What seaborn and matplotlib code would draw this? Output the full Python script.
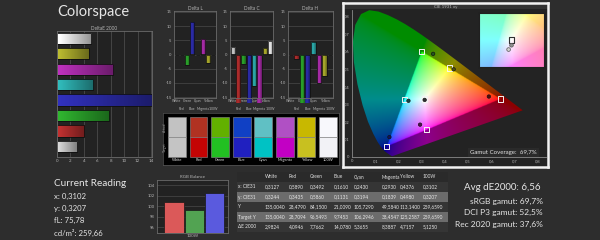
import numpy as np
import pandas as pd
import matplotlib
matplotlib.use("Agg")
import matplotlib.pyplot as plt
from matplotlib.path import Path
from matplotlib.patches import Polygon, Rectangle
import seaborn as sns

# ------------------------------------------------------------------ data
categories = ["White", "Red", "Green", "Blue", "Cyan", "Magenta", "Yellow", "100W"]
cat_colors = ["#d0d0d0", "#d01818", "#18c018", "#1818c8", "#18c8c8", "#c818c8", "#c8c818", "#f4f4f4"]

cie_x = [0.3127, 0.5890, 0.3492, 0.1610, 0.2430, 0.2930, 0.4376, 0.3102]
cie_y = [0.3244, 0.3435, 0.5860, 0.1131, 0.3194, 0.1839, 0.4980, 0.3207]
lum_Y = [135.0040, 28.4790, 84.1500, 21.0090, 105.7290, 49.5840, 113.1400, 259.6590]
target_Y = [135.0040, 28.7094, 96.5493, 9.7453, 106.2946, 38.4547, 125.2587, 259.6590]
delta_e = [2.9824, 4.0946, 7.7662, 14.0780, 5.3655, 8.3887, 4.7157, 5.1250]

delta_l = [0.0, -0.2, -3.7, 11.3, -0.3, 5.3, -2.9, 0.0]
delta_c = [2.6, -17.0, -3.3, -17.0, -11.1, -17.0, 2.3, 4.7]
delta_h = [0.0, -1.5, -17.0, -17.0, 4.5, -10.0, -7.5, 0.0]

target_names = ["White", "Red", "Green", "Blue", "Cyan", "Magenta", "Yellow"]
target_x = [0.3127, 0.6400, 0.3000, 0.1500, 0.2247, 0.3209, 0.4193]
target_y = [0.3290, 0.3300, 0.6000, 0.0600, 0.3287, 0.1542, 0.5053]
srgb_tri_x = [0.64, 0.30, 0.15]
srgb_tri_y = [0.33, 0.60, 0.06]

actual_colors = ["#c2c2c2", "#b03222", "#62b000", "#1040c4", "#60c0c4", "#b050c4", "#c8b800", "#f8f8fc"]
target_colors = ["#c4c4c4", "#c40404", "#22c022", "#2020c0", "#00c2c4", "#c200c4", "#c8c020", "#f2f2f6"]

rgb_channels = ["R", "G", "B"]
rgb_balance = [100.85, 99.35, 102.45]
rgb_colors = ["#f04444", "#44b044", "#4444f4"]

reading_labels = ["x: 0,3102", "y: 0,3207", "fL: 75,78", "cd/m²: 259,66"]
summary_title = "Avg dE2000: 6,56"
summary_lines = ["sRGB gamut: 69,7%", "DCI P3 gamut: 52,5%", "Rec 2020 gamut: 37,6%"]
gamut_coverage = "Gamut Coverage:  69,7%"

table_rows = ["x: CIE31", "y: CIE31", "Y", "Target Y", "ΔE 2000"]

# CIE 1931 2deg spectral locus (380..700 nm)
locus_x = [0.1741, 0.1740, 0.1738, 0.1736, 0.1733, 0.1730, 0.1726, 0.1721, 0.1714, 0.1703,
           0.1689, 0.1669, 0.1644, 0.1611, 0.1566, 0.1510, 0.1440, 0.1355, 0.1241, 0.1096,
           0.0913, 0.0687, 0.0454, 0.0235, 0.0082, 0.0039, 0.0139, 0.0389, 0.0743, 0.1142,
           0.1547, 0.1929, 0.2296, 0.2658, 0.3016, 0.3373, 0.3731, 0.4087, 0.4441, 0.4788,
           0.5125, 0.5448, 0.5752, 0.6029, 0.6270, 0.6482, 0.6658, 0.6801, 0.6915, 0.7006,
           0.7079, 0.7140, 0.7190, 0.7230, 0.7260, 0.7283, 0.7300, 0.7334, 0.7347]
locus_y = [0.0050, 0.0050, 0.0049, 0.0049, 0.0048, 0.0048, 0.0048, 0.0048, 0.0051, 0.0058,
           0.0069, 0.0086, 0.0109, 0.0138, 0.0177, 0.0227, 0.0297, 0.0399, 0.0578, 0.0868,
           0.1327, 0.2007, 0.2950, 0.4127, 0.5384, 0.6548, 0.7502, 0.8120, 0.8338, 0.8262,
           0.8059, 0.7816, 0.7543, 0.7243, 0.6923, 0.6589, 0.6245, 0.5896, 0.5547, 0.5202,
           0.4866, 0.4544, 0.4242, 0.3965, 0.3725, 0.3514, 0.3340, 0.3197, 0.3083, 0.2993,
           0.2920, 0.2859, 0.2809, 0.2770, 0.2740, 0.2717, 0.2700, 0.2666, 0.2653]

# ------------------------------------------------------------------ style
sns.set_theme(style="dark")
BG = "#2d2d2d"
AXBG = "#222222"
TXT = "#e6e6e6"
TICK = "#b4b4b4"
GRID = "#4a4a4a"
plt.rcParams["font.family"] = ["Lato", "DejaVu Sans"]
plt.rcParams["axes.unicode_minus"] = False

W, H = 600, 240
fig = plt.figure(figsize=(6, 2.4), dpi=100, facecolor=BG)


def px_axes(x, y, w, h, **kw):
    return fig.add_axes([x / W, 1 - (y + h) / H, w / W, h / H], **kw)


def fig_text(x, y, s, **kw):
    return fig.text(x / W, 1 - y / H, s, **kw)


def style_axes(ax, fs=3.2):
    ax.set_facecolor(AXBG)
    for sp in ax.spines.values():
        sp.set_color("#6a6a6a")
        sp.set_linewidth(0.6)
    ax.tick_params(colors=TICK, labelsize=fs, length=1.0, width=0.4, pad=0.8)
    ax.set_xlabel("")
    ax.set_ylabel("")


def shade_bars(ax, horizontal=True, lo=1.0, hi=0.55):
    for p in list(ax.patches):
        bb = p.get_bbox()
        if bb.width == 0 or bb.height == 0:
            continue
        c = np.array(matplotlib.colors.to_rgb(p.get_facecolor()))
        t = np.linspace(0, 1, 64)
        if horizontal:
            f = lo + (hi - lo) * t
        else:
            f = 1.0 - 0.35 * np.abs(t - 0.4) * 2
        img = np.clip(c[None, None, :] * f[None, :, None], 0, 1)
        im = ax.imshow(img, extent=[bb.x0, bb.x1, bb.y0, bb.y1], aspect="auto",
                       interpolation="bilinear", zorder=p.get_zorder() + 0.1,
                       origin="lower")
        im.set_clip_path(p)
        p.set_facecolor("none")
        p.set_zorder(p.get_zorder() + 0.2)


# ------------------------------------------------------------------ title
fig_text(57, 12, "Colorspace", fontsize=10.5, color=TXT, va="center", ha="left")

# ------------------------------------------------------------------ DeltaE 2000 bars
ax_de = px_axes(57, 31, 95, 126)
order_de = categories[::-1]
df_de = pd.DataFrame({"cat": categories, "de": delta_e})
sns.barplot(data=df_de, x="de", y="cat", hue="cat", order=order_de, hue_order=categories,
            palette=cat_colors, orient="h", width=0.74, edgecolor="#101010",
            linewidth=0.6, legend=False, ax=ax_de)
style_axes(ax_de)
ax_de.set_xlim(0, 14.15)
ax_de.set_ylim(7.67, -0.47)
ax_de.set_xticks(range(0, 15, 2))
ax_de.set_yticks([])
ax_de.grid(axis="x", color=GRID, linewidth=0.6)
ax_de.grid(axis="y", visible=False)
ax_de.set_axisbelow(True)
ax_de.set_title("DeltaE 2000", fontsize=3.4, color=TICK, pad=1.0)
shade_bars(ax_de, horizontal=True, lo=1.08, hi=0.6)


# ------------------------------------------------------------------ Delta L / C / H
def delta_chart(x0, width, vals, title):
    ax = px_axes(x0, 11, width, 87)
    df = pd.DataFrame({"cat": categories, "v": vals})
    sns.barplot(data=df, x="cat", y="v", hue="cat", order=categories, hue_order=categories,
                palette=cat_colors, width=0.78, edgecolor="#101010", linewidth=0.5,
                legend=False, ax=ax)
    style_axes(ax, fs=3.0)
    ax.set_ylim(-15.3, 15.3)
    ax.set_xlim(-0.5, 7.5)
    ax.set_yticks([15, 10, 5, 0, -5, -10, -15])
    ax.grid(axis="y", color=GRID, linewidth=0.5)
    ax.grid(axis="x", visible=False)
    ax.set_axisbelow(True)
    ax.set_xticks(range(8))
    ax.set_xticklabels(categories)
    ax.tick_params(axis="x", length=0, pad=0.6, labelsize=2.4)
    for i, t in enumerate(ax.xaxis.get_major_ticks()):
        if i % 2 == 1:
            t.set_pad(6.6)
    ax.set_title(title, fontsize=3.4, color=TICK, pad=1.0)
    shade_bars(ax, horizontal=False)
    return ax


delta_chart(174, 42, delta_l, "Delta L")
delta_chart(230, 43, delta_c, "Delta C")
delta_chart(288, 45, delta_h, "Delta H")

# ------------------------------------------------------------------ swatches
ax_sw = px_axes(163, 113, 176, 52)
ax_sw.set_facecolor("#000000")
xs = np.arange(len(categories))
ax_sw.bar(xs, 1, bottom=1, width=0.83, color=actual_colors, edgecolor="#8a8a8a", linewidth=0.4)
ax_sw.bar(xs, 1, bottom=0, width=0.83, color=target_colors, edgecolor="#8a8a8a", linewidth=0.4)
ax_sw.set_xlim(-0.65, 7.52)
ax_sw.set_ylim(-0.4, 2.2)
ax_sw.set_xticks([])
ax_sw.set_yticks([])
for sp in ax_sw.spines.values():
    sp.set_color("#555555")
    sp.set_linewidth(0.5)
for i, c in enumerate(categories):
    ax_sw.text(i, -0.17, c, fontsize=2.8, color="#e0e0e0", ha="center", va="center")
ax_sw.text(-0.56, 1.5, "Actual", fontsize=2.4, color="#a0a0a0", rotation=90, ha="center", va="center")
ax_sw.text(-0.56, 0.5, "Target", fontsize=2.4, color="#a0a0a0", rotation=90, ha="center", va="center")

# ------------------------------------------------------------------ CIE diagram
M = np.array([[3.2406, -1.5372, -0.4986],
              [-0.9689, 1.8758, 0.0415],
              [0.0557, -0.2040, 1.0570]])


def xy_to_rgb(xg, yg):
    yg = np.maximum(yg, 1e-4)
    X = xg / yg
    Y = np.ones_like(xg)
    Z = (1 - xg - yg) / yg
    rgb = np.stack([X, Y, Z], -1) @ M.T
    rgb = np.clip(rgb, 0, None)
    rgb = rgb / np.maximum(rgb.max(-1, keepdims=True), 1e-6)
    rgb = np.where(rgb <= 0.0031308, 12.92 * rgb, 1.055 * np.power(rgb, 1 / 2.4) - 0.055)
    return np.clip(rgb, 0, 1)


ax_frame = px_axes(343, 3, 205, 164)
ax_frame.set_facecolor("#232323")
ax_frame.set_xticks([])
ax_frame.set_yticks([])
for sp in ax_frame.spines.values():
    sp.set_color("#f2f2f2")
    sp.set_linewidth(1.8)
ax_frame.add_patch(Rectangle((0, 0.965), 1, 0.035, transform=ax_frame.transAxes,
                             color="#333333", lw=0))
ax_frame.text(0.5, 0.978, "CIE 1931 xy", transform=ax_frame.transAxes, fontsize=3.2,
              color=TICK, ha="center", va="center")

LIM = 0.835
ax_cie = px_axes(352, 10, 194, 147)
ax_cie.set_facecolor("none")
N = 420
g = np.linspace(0, LIM, N)
gx, gy = np.meshgrid(g, g)
rgb = xy_to_rgb(gx, gy)
tri = Path(np.column_stack([srgb_tri_x, srgb_tri_y]))
inside_tri = tri.contains_points(np.column_stack([gx.ravel(), gy.ravel()])).reshape(gx.shape)
rgb = np.where(inside_tri[..., None], rgb, rgb * 0.55)
im = ax_cie.imshow(rgb, extent=[0, LIM, 0, LIM], origin="lower", aspect="auto",
                   interpolation="bilinear", zorder=1)
locus_poly = Polygon(np.column_stack([locus_x, locus_y]), closed=True,
                     transform=ax_cie.transData, facecolor="none", edgecolor="none")
ax_cie.add_patch(locus_poly)
im.set_clip_path(locus_poly)

ax_cie.set_xlim(0, LIM)
ax_cie.set_ylim(0, LIM)
ticks = np.round(np.arange(0, 0.81, 0.1), 1)
tick_lbls = ["0"] + [f"{t:.1f}".replace(".", ",") for t in ticks[1:]]
ax_cie.set_xticks(ticks)
ax_cie.set_xticklabels(tick_lbls)
ax_cie.set_yticks(ticks)
ax_cie.set_yticklabels(tick_lbls)
ax_cie.tick_params(colors=TICK, labelsize=3.0, length=1.0, width=0.4, pad=0.8)
ax_cie.spines["top"].set_visible(False)
ax_cie.spines["right"].set_visible(False)
for s in ["left", "bottom"]:
    ax_cie.spines[s].set_color("#8a8a8a")
    ax_cie.spines[s].set_linewidth(0.6)
ax_cie.grid(False)

df_t = pd.DataFrame({"x": target_x, "y": target_y, "name": target_names})
sns.scatterplot(data=df_t, x="x", y="y", marker="s", s=14, facecolor="none",
                edgecolor="#f4f4f4", linewidth=0.7, ax=ax_cie, zorder=4, legend=False)
meas_cols = ["#303030", "#5a0808", "#205a20", "#101060", "#104848", "#501050", "#505010"]
df_m = pd.DataFrame({"x": cie_x[:7], "y": cie_y[:7], "name": categories[:7]})
sns.scatterplot(data=df_m, x="x", y="y", hue="name", palette=meas_cols, marker="o", s=6,
                edgecolor="#151515", linewidth=0.5, ax=ax_cie, zorder=5, legend=False)
ax_cie.set_xlabel("")
ax_cie.set_ylabel("")

# gamut coverage label
fig_text(470, 152.5, gamut_coverage, fontsize=4.4, color="#e0e0e0", ha="left", va="center",
         bbox=dict(boxstyle="square,pad=0.35", facecolor="#2a2a2a", edgecolor="none"))

# white point inset
ax_in = px_axes(479, 13, 65, 54)
wx, wy = target_x[0], target_y[0]
dx, dy = 0.028, 0.0235
ix = np.linspace(wx - dx, wx + dx, 80)
iy = np.linspace(wy - dy, wy + dy, 80)
igx, igy = np.meshgrid(ix, iy)
rgb_in = xy_to_rgb(wx + (igx - wx) * 8.0, wy + (igy - wy) * 8.0)
rgb_in = 1.0 - 0.5 * (1.0 - rgb_in)
ax_in.imshow(rgb_in, extent=[wx - dx, wx + dx, wy - dy, wy + dy], origin="lower",
             aspect="auto", interpolation="bilinear")
ax_in.set_xlim(wx - dx, wx + dx)
ax_in.set_ylim(wy - dy, wy + dy)
ax_in.set_xticks([])
ax_in.set_yticks([])
for sp in ax_in.spines.values():
    sp.set_color("#202020")
    sp.set_linewidth(0.8)
ax_in.scatter([wx], [wy], marker="s", s=16, facecolor="none", edgecolor="#303030", linewidth=0.8, zorder=4)
ax_in.scatter([cie_x[0], cie_x[7]], [cie_y[0], cie_y[7]], marker="o", s=7,
              facecolor=["#909090", "#d0d0d0"], edgecolor="#555555", linewidth=0.5, zorder=5)

# ------------------------------------------------------------------ current reading
fig_text(54, 183.5, "Current Reading", fontsize=7.2, color=TXT, ha="left", va="center")
for i, s in enumerate(reading_labels):
    fig_text(54, 196 + i * 12.3, s, fontsize=5.6, color=TXT, ha="left", va="center")

# ------------------------------------------------------------------ RGB balance
ax_rgb = px_axes(157, 180, 71, 53)
df_rgb = pd.DataFrame({"ch": rgb_channels, "v": rgb_balance})
sns.barplot(data=df_rgb, x="ch", y="v", hue="ch", palette=rgb_colors, width=0.95,
            edgecolor="#181818", linewidth=0.5, legend=False, ax=ax_rgb)
style_axes(ax_rgb, fs=3.0)
ax_rgb.set_ylim(94.9, 105.0)
ax_rgb.set_xlim(-0.84, 2.66)
ax_rgb.set_yticks([96, 98, 100, 102, 104])
ax_rgb.set_xticks([])
ax_rgb.grid(axis="y", color=GRID, linewidth=0.5)
ax_rgb.grid(axis="x", visible=False)
ax_rgb.set_axisbelow(True)
ax_rgb.set_title("RGB Balance", fontsize=3.2, color=TICK, pad=1.2)
ax_rgb.text(0.5, -0.06, "100W", transform=ax_rgb.transAxes, fontsize=3.2, color=TICK,
            ha="center", va="center")

# ------------------------------------------------------------------ table
ax_tb = px_axes(237, 172, 211, 60)
ax_tb.set_xlim(0, 211)
ax_tb.set_ylim(6, 0)
ax_tb.set_facecolor("#2a2a2a")
ax_tb.set_xticks([])
ax_tb.set_yticks([])
for sp in ax_tb.spines.values():
    sp.set_visible(False)
row_fill = ["#353535", "#6c6c6c", "#353535", "#6c6c6c", "#353535"]
for r in range(5):
    ax_tb.axhspan(r + 1, r + 2, color=row_fill[r], lw=0)
col_x = [28, 52, 73, 97, 117, 145, 163, 186]
for j, c in enumerate(categories):
    ax_tb.text(col_x[j], 0.5, c, fontsize=3.4, color="#e0e0e0", ha="left", va="center")
table_vals = [cie_x, cie_y, lum_Y, target_Y, delta_e]
for r, name in enumerate(table_rows):
    ax_tb.text(1.5, r + 1.5, name, fontsize=3.4, color="#e8e8e8", ha="left", va="center")
    for j, v in enumerate(table_vals[r]):
        ax_tb.text(col_x[j], r + 1.5, f"{v:.4f}".replace(".", ","), fontsize=3.4,
                   color="#e8e8e8", ha="left", va="center")

# ------------------------------------------------------------------ summary
fig_text(541, 187.5, summary_title, fontsize=7.0, color=TXT, ha="right", va="center")
for i, s in enumerate(summary_lines):
    fig_text(543, 201.5 + i * 11.3, s, fontsize=6.0, color=TXT, ha="right", va="center")

fig.savefig("out.png", dpi=100, facecolor=BG)
